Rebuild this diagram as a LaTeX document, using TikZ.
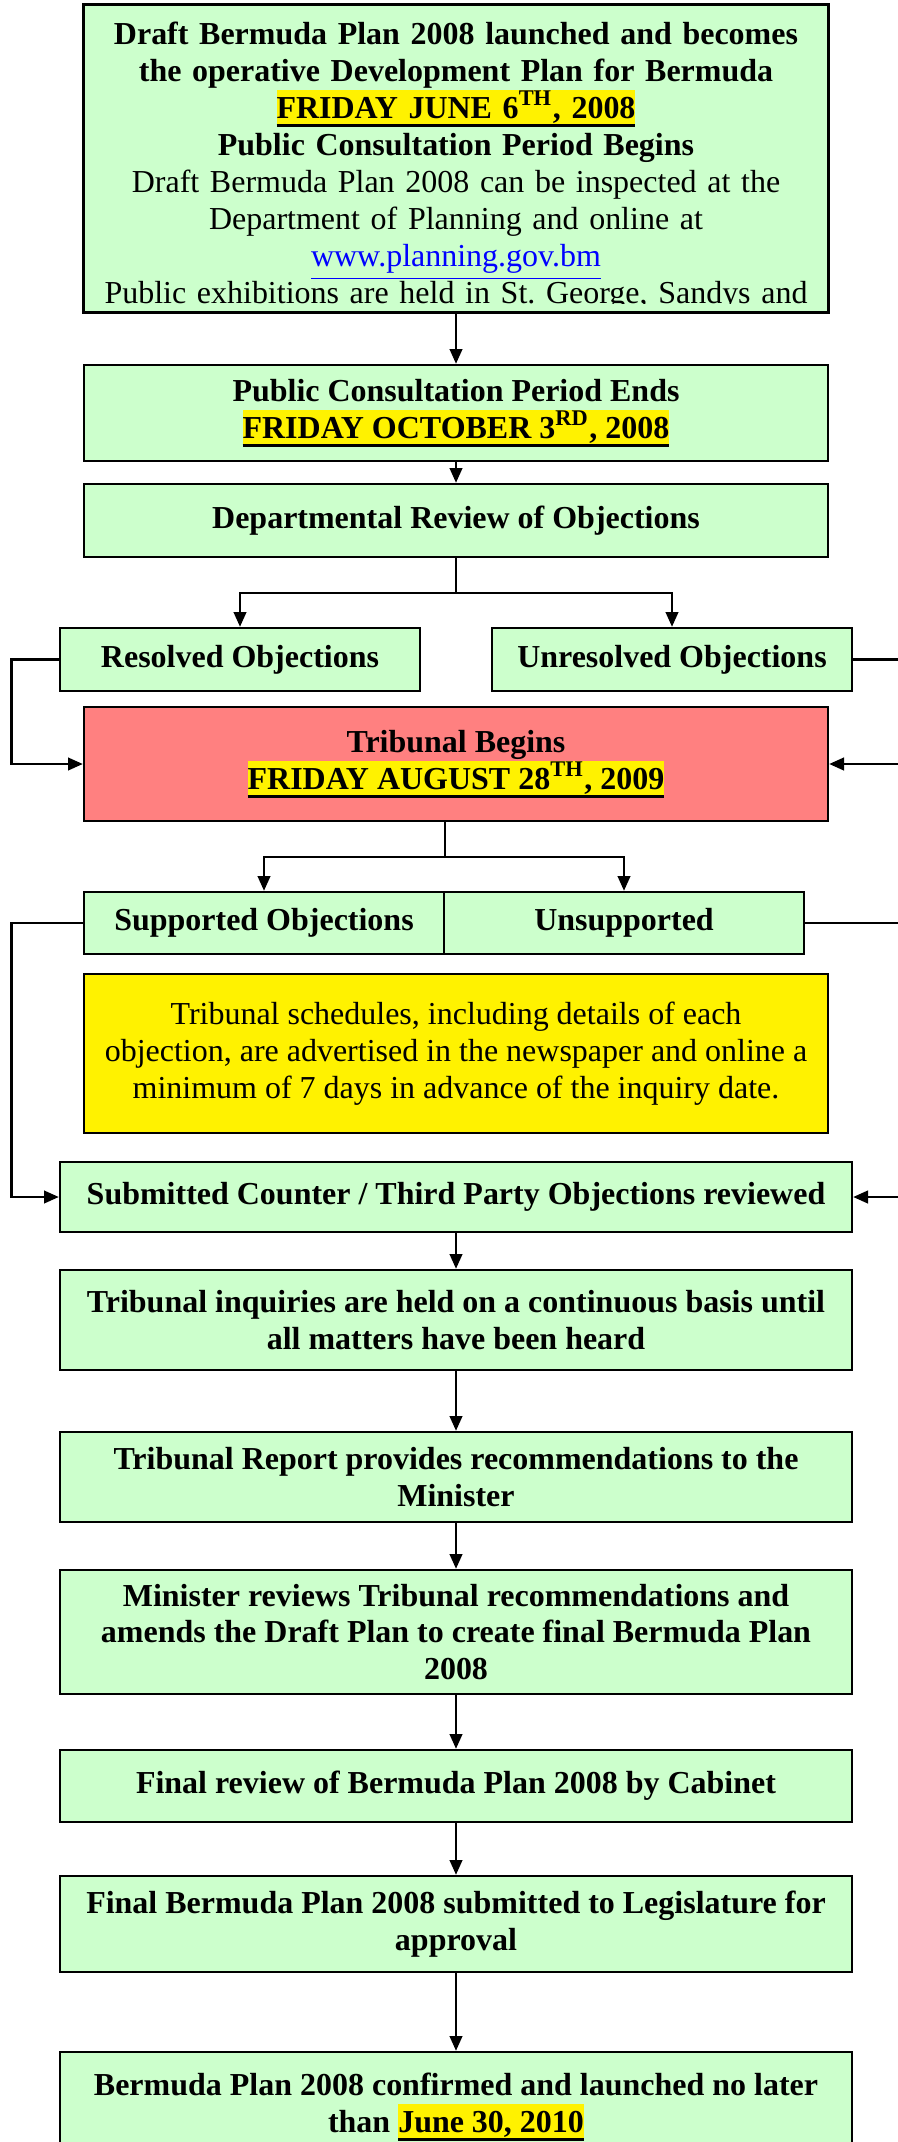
\documentclass[tikz,border=0pt]{standalone}
\usepackage{fontspec}
\setmainfont{Liberation Serif}
\usetikzlibrary{arrows.meta}
\frenchspacing

\definecolor{stagegreen}{HTML}{CCFFCC}
\definecolor{stagered}{HTML}{FF8080}
\definecolor{linkblue}{HTML}{0000FF}

\newcommand{\flowfont}{\fontsize{9.1}{10.5}\selectfont}
% yellow highlighted, thick underlined date
\newcommand{\datehl}[1]{\setbox0\hbox{#1}{\setlength{\fboxsep}{0pt}\colorbox{yellow}{\rule[-2.3pt]{0pt}{10.5pt}\rlap{\rule[-2.3pt]{\wd0}{0.85pt}}\box0}}}

\tikzset{
    stagebox/.style={draw, line width=0.7pt, fill=stagegreen, align=center, inner sep=1pt, font=\flowfont\bfseries},
}

\begin{document}
\begin{tikzpicture}[>={Triangle[length=4.2pt,width=3.6pt]}, line width=0.6pt]
    \useasboundingbox (0,0) rectangle (8.98,-21.42);

    % launch of the draft plan (text runs past the box and is cut off)
    \node[stagebox, minimum width=7.44cm, minimum height=3.07cm] (launch) at (4.56,-1.585) {};
    \begin{scope}
        \clip (0.84,-3.03) rectangle (8.28,-0.06);
        \node[anchor=base, text width=7.4cm, align=center, font=\flowfont] (launchtext) at (4.56,-0.45) {%
            \textbf{Draft Bermuda Plan 2008 launched and becomes}\\
            \textbf{the operative Development Plan for Bermuda}\\
            \textbf{\datehl{FRIDAY JUNE 6\textsuperscript{TH}, 2008}}\\
            \textbf{Public Consultation Period Begins}\\
            Draft Bermuda Plan 2008 can be inspected at the\\
            Department of Planning and online at\\
            {\color{linkblue}\underline{www.planning.gov.bm}}\\
            Public exhibitions are held in St. George, Sandys and};
    \end{scope}
    \draw[line width=0.7pt] (launch.south west) rectangle (launch.north east);

    % consultation period and departmental review
    \node[stagebox, minimum width=7.44cm, minimum height=0.96cm] (consultend) at (4.56,-4.13)
        {Public Consultation Period Ends\\ \datehl{FRIDAY OCTOBER 3\textsuperscript{RD}, 2008}};
    \node[stagebox, minimum width=7.44cm, minimum height=0.73cm] (review) at (4.56,-5.205)
        {Departmental Review of Objections};

    % resolved / unresolved
    \node[stagebox, minimum width=3.6cm, minimum height=0.63cm] (resolved) at (2.40,-6.595) {Resolved Objections};
    \node[stagebox, minimum width=3.6cm, minimum height=0.63cm] (unresolved) at (6.72,-6.595) {Unresolved Objections};

    % tribunal
    \node[stagebox, fill=stagered, minimum width=7.44cm, minimum height=1.14cm] (tribunal) at (4.56,-7.64)
        {Tribunal Begins\\ \datehl{FRIDAY AUGUST 28\textsuperscript{TH}, 2009}};

    % supported / unsupported
    \node[stagebox, minimum width=3.6cm, minimum height=0.62cm] (supported) at (2.64,-9.23) {Supported Objections};
    \node[stagebox, minimum width=3.6cm, minimum height=0.62cm] (unsupported) at (6.24,-9.23) {Unsupported};

    % schedule note
    \node[stagebox, fill=yellow, font=\flowfont, minimum width=7.44cm, minimum height=1.59cm] (schedule) at (4.56,-10.535)
        {Tribunal schedules, including details of each\\
         objection, are advertised in the newspaper and online a\\
         minimum of 7 days in advance of the inquiry date.};

    % later stages
    \node[stagebox, minimum width=7.92cm, minimum height=0.70cm] (counter) at (4.56,-11.97)
        {Submitted Counter / Third Party Objections reviewed};
    \node[stagebox, minimum width=7.92cm, minimum height=1.00cm] (inquiries) at (4.56,-13.20)
        {Tribunal inquiries are held on a continuous basis until\\ all matters have been heard};
    \node[stagebox, minimum width=7.92cm, minimum height=0.90cm] (report) at (4.56,-14.77)
        {Tribunal Report provides recommendations to the\\ Minister};
    \node[stagebox, minimum width=7.92cm, minimum height=1.24cm] (minister) at (4.56,-16.32)
        {Minister reviews Tribunal recommendations and\\ amends the Draft Plan to create final Bermuda Plan\\ 2008};
    \node[stagebox, minimum width=7.92cm, minimum height=0.72cm] (cabinet) at (4.56,-17.86)
        {Final review of Bermuda Plan 2008 by Cabinet};
    \node[stagebox, minimum width=7.92cm, minimum height=0.96cm] (legislature) at (4.56,-19.24)
        {Final Bermuda Plan 2008 submitted to Legislature for\\ approval};
    \node[stagebox, minimum width=7.92cm, minimum height=1.10cm] (confirmed) at (4.56,-21.07)
        {Bermuda Plan 2008 confirmed and launched no later\\ than \datehl{June 30, 2010}};

    % rails on both sides
    \coordinate (leftrail) at (0.115,0);
    \coordinate (rightrail) at (9.10,0);

    % connectors
    \draw[->] (launch.south) -- (consultend.north);
    \draw[->] (consultend.south) -- (review.north);
    \draw (review.south) -- ++(0,-0.35) coordinate (split1);
    \draw[->] (split1) -| (resolved.north);
    \draw[->] (split1) -| (unresolved.north);
    \draw[->] (resolved.west) -- (resolved.west -| leftrail) |- (tribunal.west);
    \draw[->] (unresolved.east) -- (unresolved.east -| rightrail) |- (tribunal.east);
    \draw (tribunal.south -| supported.east) -- ++(0,-0.35) coordinate (split2);
    \draw[->] (split2) -| (supported.north);
    \draw[->] (split2) -| (unsupported.north);
    \draw[->] (supported.west) -- (supported.west -| leftrail) |- (counter.west);
    \draw[->] (unsupported.east) -- (unsupported.east -| rightrail) |- (counter.east);
    \draw[->] (counter.south) -- (inquiries.north);
    \draw[->] (inquiries.south) -- (report.north);
    \draw[->] (report.south) -- (minister.north);
    \draw[->] (minister.south) -- (cabinet.north);
    \draw[->] (cabinet.south) -- (legislature.north);
    \draw[->] (legislature.south) -- (confirmed.north);
\end{tikzpicture}
\end{document}
